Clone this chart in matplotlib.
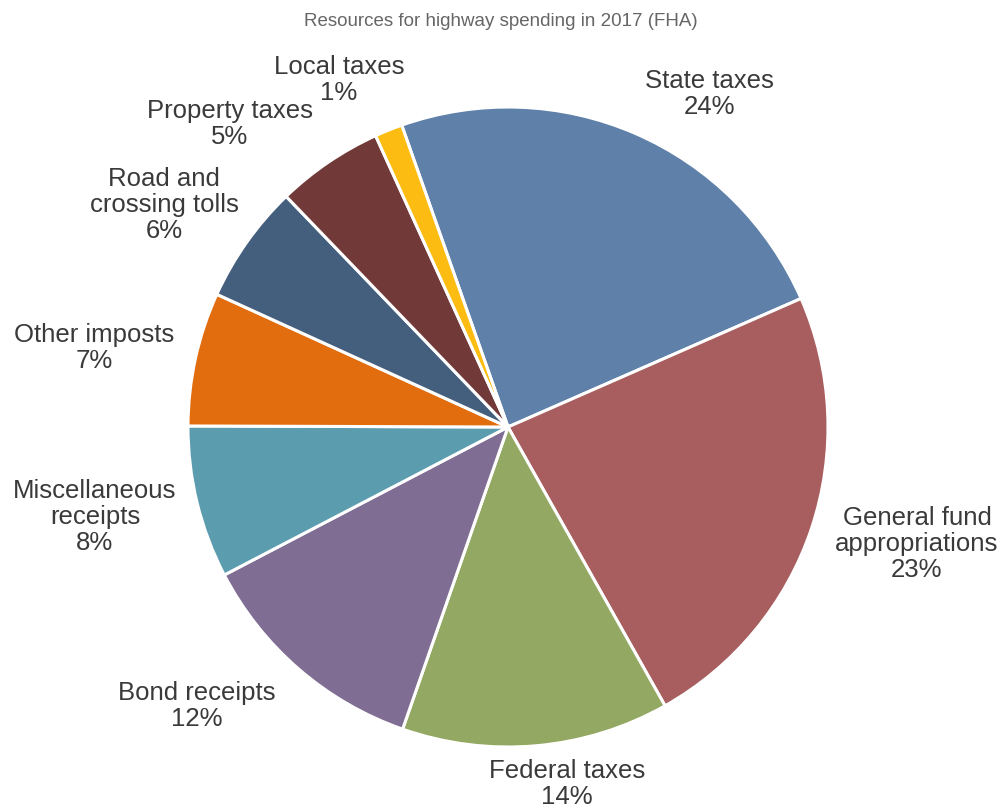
import matplotlib
matplotlib.use("Agg")
import matplotlib.pyplot as plt

# Revenue sources for highway spending, 2017 (share of total, %)
SOURCES = ["State taxes", "General fund\nappropriations", "Federal taxes",
           "Bond receipts", "Miscellaneous\nreceipts", "Other imposts",
           "Road and\ncrossing tolls", "Property taxes", "Local taxes"]
SHARES = [23.8, 23.4, 13.5, 12.0, 7.7, 6.75, 6.0, 5.4, 1.4]
COLORS = ["#5e80a9", "#a85e5e", "#93a862", "#7f6d93", "#5b9caf",
          "#e26d0e", "#445f7e", "#723939", "#fdbc12"]

# label anchors, in units of the pie radius
LABEL_XY = [(0.631, 1.041), (1.278, -0.366), (0.184, -1.116),
            (-0.972, -0.872), (-1.291, -0.281), (-1.294, 0.247),
            (-1.075, 0.694), (-0.869, 0.947), (-0.528, 1.084)]

plt.rcParams["font.family"] = ["Liberation Sans", "DejaVu Sans"]

fig = plt.figure(figsize=(10.02, 8.10), dpi=100)
ax = fig.add_axes([0, 0, 1, 1])

R_PX = 320.0
CX, CY = 508.0, 427.0

wedges, _ = ax.pie(SHARES, colors=COLORS, startangle=109.4,
                   counterclock=False, radius=1.0,
                   wedgeprops=dict(edgecolor="white", linewidth=2.2))

total = sum(SHARES)
for name, val, (lx, ly) in zip(SOURCES, SHARES, LABEL_XY):
    pct = round(100 * val / total)
    ax.text(lx, ly, f"{name}\n{pct}%", ha="center", va="center",
            fontsize=18.5, color="#3a3a3a", linespacing=1.12)

ax.set_xlim(-CX / R_PX, (1002 - CX) / R_PX)
ax.set_ylim(-(810 - CY) / R_PX, CY / R_PX)
ax.set_aspect("auto")
ax.axis("off")

fig.text(501 / 1002, 1 - 22 / 810, "Resources for highway spending in 2017 (FHA)",
         ha="center", va="center", fontsize=13.5, color="#666666")

fig.savefig("out.png", dpi=100)
